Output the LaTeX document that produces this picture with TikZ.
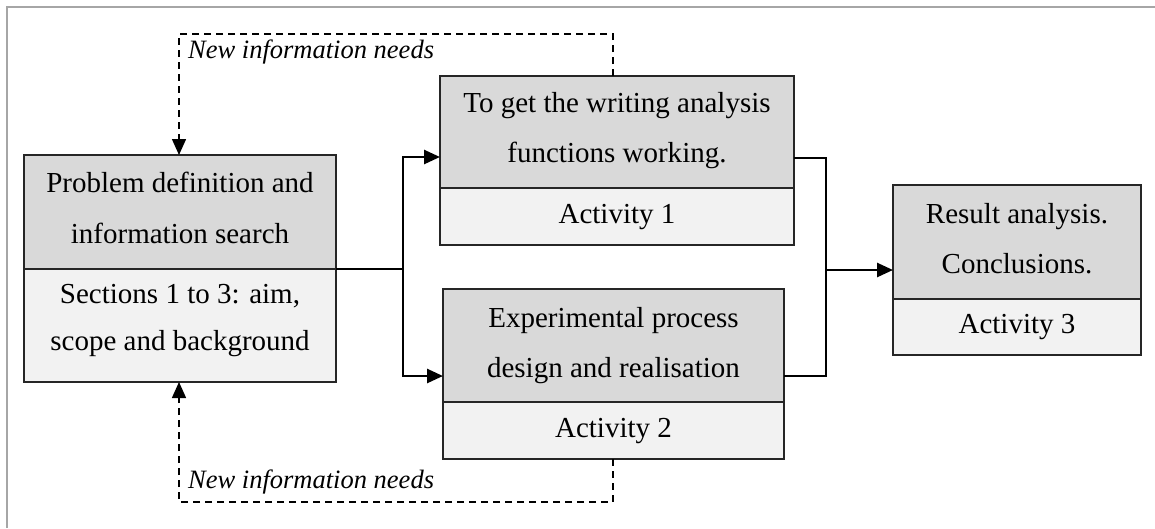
\documentclass[tikz,border=0pt]{standalone}
\usepackage{fontspec}
\setmainfont{Liberation Serif}
\usetikzlibrary{arrows.meta}
\definecolor{topfill}{HTML}{D9D9D9}
\definecolor{botfill}{HTML}{F2F2F2}
\definecolor{edge}{HTML}{262626}
\definecolor{framegray}{HTML}{A6A6A6}
\tikzset{
  part/.style={draw=edge, line width=1.4pt, anchor=north west, inner sep=0pt, outer sep=0pt},
  toppart/.style={part, fill=topfill},
  botpart/.style={part, fill=botfill},
  txt/.style={anchor=base, inner sep=0pt, font=\fontsize{29}{50}\selectfont},
  note/.style={anchor=base west, inner sep=0pt, font=\fontsize{26.5}{30}\selectfont\itshape},
  conn/.style={line width=2.6pt, black},
  arr/.style={conn, -{Triangle[length=16pt,width=14pt]}},
  fb/.style={line width=1.5pt, black, dash pattern=on 7pt off 5pt},
  fbarr/.style={fb, -{Triangle[length=16pt,width=14pt]}}
}
\begin{document}
\begin{tikzpicture}[x=1pt,y=-1pt]
\useasboundingbox (0,0) rectangle (1155,528);
% frame (top and left edges only)
\draw[framegray, line width=2.5pt] (7,528) -- (7,7) -- (1155,7);

% Box 1
\node[toppart, minimum width=312pt, minimum height=114pt] (p1top) at (24,155) {};
\node[botpart, minimum width=312pt, minimum height=113pt] (p1bot) at (24,269) {};
\node[txt] (p1l1) at (180,192) {Problem definition and};
\node[txt] (p1l2) at (180,243) {information search};
\node[txt] (p1l3) at (180,303) {Sections 1 to 3: aim,};
\node[txt] (p1l4) at (180,350) {scope and background};

% Activity 1
\node[toppart, minimum width=354pt, minimum height=112pt] (a1top) at (440,76) {};
\node[botpart, minimum width=354pt, minimum height=57pt] (a1bot) at (440,188) {};
\node[txt] (a1l1) at (617,112) {To get the writing analysis};
\node[txt] (a1l2) at (617,162) {functions working.};
\node[txt] (a1l3) at (617,223) {Activity 1};

% Activity 2
\node[toppart, minimum width=341pt, minimum height=113pt] (a2top) at (443,289) {};
\node[botpart, minimum width=341pt, minimum height=57pt] (a2bot) at (443,402) {};
\node[txt] (a2l1) at (613.5,327) {Experimental process};
\node[txt] (a2l2) at (613.5,377) {design and realisation};
\node[txt] (a2l3) at (613.5,437) {Activity 2};

% Activity 3
\node[toppart, minimum width=248pt, minimum height=114pt] (a3top) at (893,185) {};
\node[botpart, minimum width=248pt, minimum height=56pt] (a3bot) at (893,299) {};
\node[txt] (a3l1) at (1017,223) {Result analysis.};
\node[txt] (a3l2) at (1017,273) {Conclusions.};
\node[txt] (a3l3) at (1017,333) {Activity 3};

% junction coordinates
\coordinate (j1) at (403,269);
\coordinate (a1in) at (440,157);
\coordinate (a2in) at (443,376);
\coordinate (a1out) at (794,158);
\coordinate (a2out) at (784,376);
\coordinate (j2) at (826,270);
\coordinate (a3in) at (893,270);
\coordinate (fbtop) at (613,76);
\coordinate (fbbot) at (613,459);
\coordinate (p1in) at (179,155);
\coordinate (p1in2) at (179,382);

% solid connectors
\draw[conn] (p1top.south east) -- (j1);
\draw[arr] (j1) |- (a1in);
\draw[arr] (j1) |- (a2in);
\draw[conn] (a1out) -| (826,376) -- (a2out);
\draw[arr] (j2) -- (a3in);

% feedback dashed connectors
\draw[fbarr] (fbtop) -- (613,34) -- (179,34) -- (p1in);
\draw[fbarr] (fbbot) -- (613,502) -- (179,502) -- (p1in2);
\node[note] (n1) at (188,58) {New information needs};
\node[note] (n2) at (188,488) {New information needs};
\end{tikzpicture}
\end{document}
